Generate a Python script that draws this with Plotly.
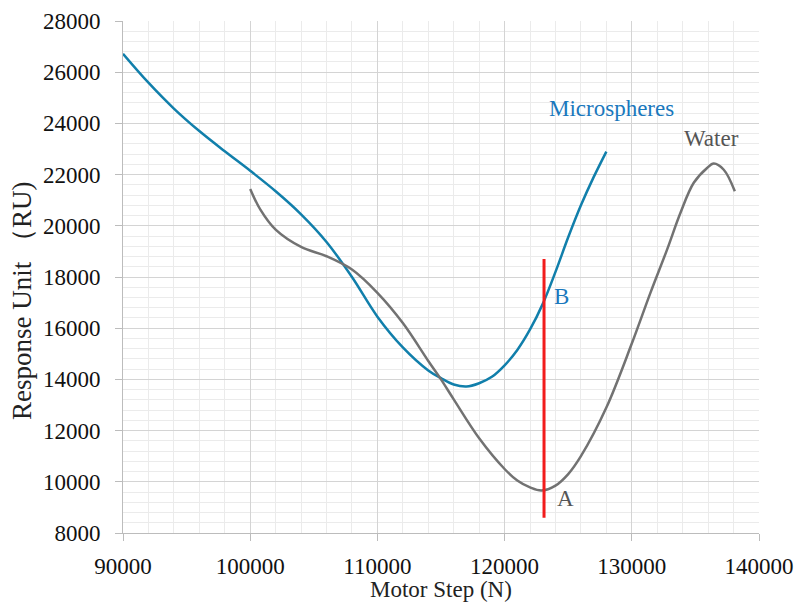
import plotly.graph_objects as go

micro_x = [90000, 92000, 94000, 96000, 98000, 100000, 102000, 104000, 106000, 108000,
           110000, 112000, 114000, 115000, 116000, 117000, 118000, 119000, 120000,
           121000, 122000, 123000, 124000, 125000, 126000, 127000, 128000]
micro_y = [26720, 25590, 24580, 23700, 22910, 22150, 21350, 20450, 19370, 18000,
           16450, 15250, 14350, 14050, 13800, 13720, 13850, 14100, 14550,
           15150, 15950, 16950, 18200, 19550, 20800, 21900, 22900]

water_x = [100000, 100800, 102000, 104000, 106000, 108000, 110000, 112000, 114000,
           115000, 116000, 118000, 120000, 121000, 122000, 122900, 124000, 125000,
           126000, 128000, 130000, 131470, 132780, 133820, 134870, 135920, 136440,
           137230, 138100]
water_y = [21440, 20630, 19850, 19175, 18810, 18290, 17380, 16200, 14720,
           14000, 13220, 11700, 10500, 10050, 9780, 9660, 9850, 10300,
           11000, 12900, 15400, 17390, 19080, 20500, 21680, 22260, 22430,
           22190, 21350]

marker_x = [123100, 123100]
marker_y = [8600, 18700]

label_text = ["Microspheres", "Water", "B", "A"]
label_x = [128430, 136300, 124500, 124800]
label_y = [24570, 23400, 17240, 9330]

blue = "#117fab"
gray = "#727272"
font = "Liberation Serif"

fig = go.Figure()
fig.add_trace(go.Scatter(x=micro_x, y=micro_y, mode="lines",
                         line=dict(color=blue, width=2.5, shape="spline", smoothing=1.0),
                         showlegend=False))
fig.add_trace(go.Scatter(x=water_x, y=water_y, mode="lines",
                         line=dict(color=gray, width=2.5, shape="spline", smoothing=1.0),
                         showlegend=False))
fig.add_trace(go.Scatter(x=marker_x, y=marker_y, mode="lines",
                         line=dict(color="#f21c1c", width=3),
                         showlegend=False))

colors = ["#1a78bd", "#555555", "#1a78bd", "#555555"]
for t, x, y, c in zip(label_text, label_x, label_y, colors):
    fig.add_annotation(x=x, y=y, text=t, showarrow=False,
                       font=dict(family=font, size=23, color=c))

fig.add_annotation(x=0.5, y=-0.111, xref="paper", yref="paper", text="Motor Step (N)",
                   showarrow=False, xanchor="center", yanchor="middle",
                   font=dict(family=font, size=23, color="#222"))
fig.add_annotation(x=-0.159, y=0.455, xref="paper", yref="paper", text="Response Unit （RU)",
                   showarrow=False, textangle=-90, xanchor="center", yanchor="middle",
                   font=dict(family=font, size=27, color="#222"))

axis_common = dict(
    showline=True, linecolor="#bcbcbc", linewidth=1,
    ticks="outside", tickcolor="#bcbcbc", ticklen=7,
    gridcolor="#d4d4d4", gridwidth=1,
    tickfont=dict(family=font, size=23, color="#111"),
    zeroline=False, tickformat="d", ticklabeloverflow="allow",
    automargin=False,
)
fig.update_xaxes(range=[90000, 140000], dtick=10000, tick0=90000,
                 minor=dict(dtick=2000, showgrid=True, gridcolor="#ebebeb", ticks=""),
                 ticklabelstandoff=5, **axis_common)
fig.update_yaxes(range=[8000, 28000], dtick=2000, tick0=8000,
                 minor=dict(dtick=400, showgrid=True, gridcolor="#ebebeb", ticks=""),
                 ticklabelstandoff=10, **axis_common)

fig.update_layout(width=797, height=603, margin=dict(l=123, r=38, t=21, b=70),
                  plot_bgcolor="white", paper_bgcolor="white")
fig.write_html("out.html", config={"displayModeBar": False},
               post_script="document.body.style.margin='0';"
                           "document.documentElement.style.overflow='hidden';")
